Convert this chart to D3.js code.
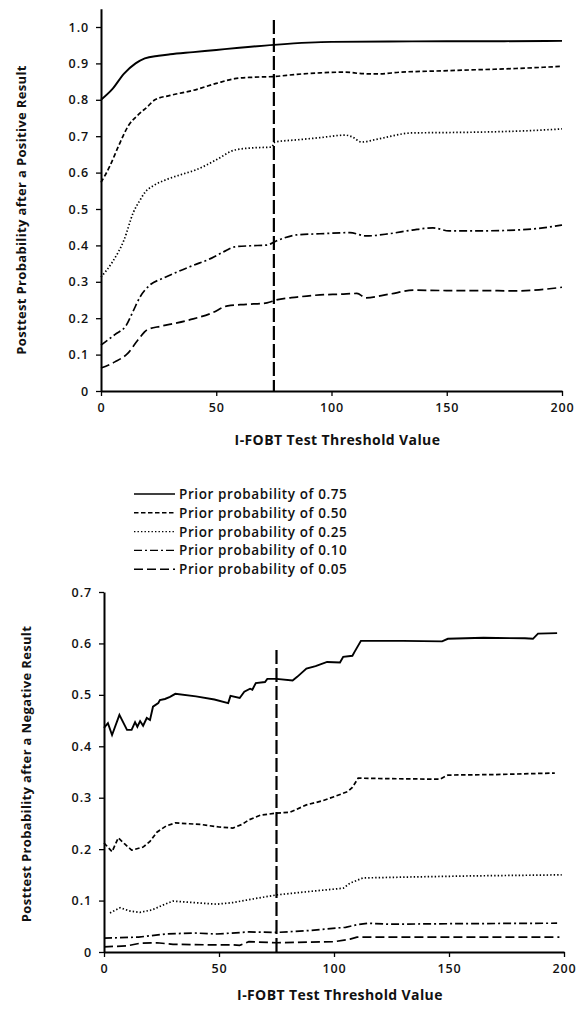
<!DOCTYPE html>
<html>
<head>
<meta charset="utf-8">
<script src="https://cdn.jsdelivr.net/npm/d3@7"></script>
<style>
  html, body { margin: 0; padding: 0; background: #fff; }
  svg { display: block; }
  text { font-family: "Open Sans", "Noto Sans", sans-serif; fill: #111; }
</style>
</head>
<body>
<svg id="chart" width="576" height="1009"></svg>
<script>
// Threshold values (x) and posttest probabilities for each prior probability

const priors = ["0.75", "0.50", "0.25", "0.10", "0.05"];
const legendLabels = priors.map(p => "Prior probability of " + p);
const xTicks = [0, 50, 100, 150, 200];
const yTicksPos = [0, 0.1, 0.2, 0.3, 0.4, 0.5, 0.6, 0.7, 0.8, 0.9, 1.0];
const yTicksNeg = [0, 0.1, 0.2, 0.3, 0.4, 0.5, 0.6, 0.7];
const cutoff = 75;

// After a positive result
const pos075 = [[0,0.80],[5,0.83],[10,0.872],[15,0.90],[19,0.914],[25,0.921],[30,0.925],[40,0.931],[50,0.937],[60,0.943],[75,0.951],[90,0.957],[100,0.959],[125,0.960],[150,0.961],[175,0.961],[200,0.962]];
const pos050 = [[0,0.573],[4,0.62],[7.4,0.67],[12,0.73],[16,0.758],[20,0.78],[23.4,0.80],[30,0.812],[40,0.826],[50,0.845],[58,0.858],[66,0.862],[75,0.864],[85,0.870],[95,0.874],[106,0.876],[113,0.872],[120,0.871],[130,0.876],[145,0.879],[160,0.882],[180,0.886],[200,0.892]];
const pos025 = [[0,0.313],[5,0.355],[10,0.415],[14,0.49],[17,0.525],[19,0.545],[23,0.565],[28,0.58],[35,0.595],[41,0.607],[50,0.635],[58,0.662],[66,0.668],[74,0.670],[75.5,0.684],[85,0.690],[95,0.696],[106,0.703],[109,0.698],[113,0.684],[120,0.692],[135,0.709],[150,0.710],[170,0.712],[185,0.715],[200,0.720]];
const pos010 = [[0,0.126],[6,0.155],[11,0.181],[14,0.22],[17,0.259],[21,0.29],[27,0.31],[33,0.327],[40,0.345],[48,0.365],[54,0.385],[58,0.396],[65,0.399],[72,0.401],[76,0.412],[85,0.429],[95,0.432],[108,0.435],[115,0.426],[125,0.432],[135,0.442],[144,0.448],[151,0.440],[165,0.440],[175,0.441],[190,0.447],[200,0.456]];
const pos005 = [[0,0.063],[6,0.08],[11.7,0.104],[16,0.14],[20,0.168],[26,0.178],[33,0.187],[40,0.198],[48,0.214],[55,0.234],[63,0.238],[72,0.242],[76,0.250],[85,0.258],[95,0.264],[104,0.266],[111,0.268],[115,0.256],[125,0.266],[136,0.277],[150,0.276],[165,0.276],[179,0.275],[190,0.278],[200,0.285]];

// After a negative result
const neg075 = [[0,0.436],[1.7,0.445],[3.5,0.422],[6.7,0.461],[10,0.432],[12,0.432],[13.5,0.447],[14.5,0.438],[15.7,0.449],[17,0.44],[18.6,0.455],[20,0.451],[21.3,0.477],[23.6,0.484],[24.3,0.49],[26.5,0.492],[28.7,0.496],[31,0.502],[40,0.497],[48,0.491],[54,0.484],[55,0.498],[59,0.494],[61,0.506],[63.5,0.512],[64.5,0.51],[66,0.523],[70,0.525],[71,0.531],[75,0.531],[82,0.528],[84,0.535],[88,0.551],[92,0.556],[97,0.564],[102.6,0.563],[104,0.574],[108,0.576],[109,0.584],[111.7,0.605],[130,0.605],[147,0.604],[149.5,0.609],[165,0.611],[183,0.610],[186.5,0.609],[188.7,0.619],[197,0.620]];
const neg050 = [[0,0.212],[3.5,0.195],[6.2,0.222],[9,0.21],[12,0.198],[17,0.204],[20,0.215],[23,0.233],[27,0.245],[31,0.251],[42,0.248],[50,0.243],[56,0.241],[60,0.248],[63,0.257],[68,0.266],[75,0.270],[81,0.272],[88,0.286],[95,0.294],[100,0.302],[106,0.312],[108,0.320],[110.5,0.338],[125,0.337],[146,0.336],[149.5,0.344],[170,0.345],[196,0.348]];
const neg025 = [[2.6,0.076],[7,0.086],[11,0.080],[15.6,0.077],[21,0.082],[26,0.092],[30,0.099],[36,0.097],[49,0.093],[56,0.096],[62,0.101],[75,0.111],[90,0.118],[104,0.124],[107,0.134],[112.6,0.144],[135,0.146],[160,0.148],[199,0.150]];
const neg010 = [[0,0.027],[15,0.029],[27,0.035],[39,0.037],[49,0.035],[63,0.039],[75,0.038],[90,0.042],[105,0.048],[110,0.053],[115,0.056],[124,0.054],[150,0.055],[197,0.056]];
const neg005 = [[0,0.010],[10,0.012],[15.6,0.017],[23,0.018],[30,0.015],[45,0.014],[56,0.014],[59,0.013],[63,0.020],[75,0.018],[100,0.020],[107,0.025],[110,0.029],[150,0.029],[198,0.029]];

const dashes = [null, "4.5,2.5", "1.4,2.1", "8,3,2,3", "9,4"];
const posSeries = [pos075, pos050, pos025, pos010, pos005];
const negSeries = [neg075, neg050, neg025, neg010, neg005];

const svg = d3.select("#chart");

function panel(cfg) {
  const g = svg.append("g");
  const x = d3.scaleLinear().domain([0, 200]).range(cfg.xRange);
  const y = d3.scaleLinear().domain(cfg.yDomain).range(cfg.yRange);

  // axes
  const fmt = v => v === 0 ? "0" : d3.format(".1f")(v);
  const yAxis = g.append("g").attr("transform", `translate(${cfg.xRange[0]},0)`)
    .call(d3.axisLeft(y).tickValues(cfg.yTicks).tickFormat(fmt).tickSize(5).tickSizeOuter(0).tickPadding(7));
  const xAxis = g.append("g").attr("transform", `translate(0,${y(0)})`)
    .call(d3.axisBottom(x).tickValues(xTicks).tickSize(5).tickSizeOuter(0).tickPadding(7));
  [yAxis, xAxis].forEach(a => {
    a.select(".domain").attr("stroke", "#000").attr("stroke-width", 2);
    a.selectAll(".tick line").attr("stroke", "#000").attr("stroke-width", 1.3);
    a.selectAll(".tick text").attr("font-size", 12.5).attr("font-weight", 600)
      .attr("letter-spacing", 0.9)
      .attr("font-family", "'Open Sans', sans-serif").attr("fill", "#111");
  });

  // series
  const line = d3.line().x(d => x(d[0])).y(d => y(d[1])).curve(cfg.curve);
  cfg.series.forEach((s, i) => {
    g.append("path").datum(s).attr("d", line)
      .attr("fill", "none").attr("stroke", "#000")
      .attr("stroke-width", i === 0 ? 1.9 : 1.7)
      .attr("stroke-dasharray", dashes[i]);
  });

  // threshold line at 75
  g.append("line")
    .attr("x1", x(cutoff)).attr("x2", x(cutoff))
    .attr("y1", cfg.cutTop).attr("y2", y(0))
    .attr("stroke", "#000").attr("stroke-width", 2.2)
    .attr("stroke-dasharray", "14,4");

  // titles
  g.append("text")
    .attr("x", (cfg.xRange[0] + cfg.xRange[1]) / 2 + 6).attr("y", cfg.xTitleY)
    .attr("text-anchor", "middle").attr("font-size", 14).attr("font-weight", 700)
    .attr("letter-spacing", 0.4)
    .text("I-FOBT Test Threshold Value");
  g.append("text")
    .attr("transform", `translate(${cfg.yTitleX},${cfg.yTitleY}) rotate(-90)`)
    .attr("text-anchor", "middle").attr("font-size", 13).attr("font-weight", 700)
    .attr("letter-spacing", 0.35)
    .text(cfg.yTitle);
}

panel({
  xRange: [101, 562], yRange: [391, 8.8], yDomain: [0, 1.05], yTicks: yTicksPos,
  series: posSeries, curve: d3.curveMonotoneX, cutTop: 20,
  xTitleY: 445, yTitleX: 26, yTitleY: 210,
  yTitle: "Posttest Probability after a Positive Result"
});

panel({
  xRange: [104, 564], yRange: [952, 592], yDomain: [0, 0.7], yTicks: yTicksNeg,
  series: negSeries, curve: d3.curveLinear, cutTop: 650,
  xTitleY: 1000, yTitleX: 31, yTitleY: 774,
  yTitle: "Posttest Probability after a Negative Result"
});

// legend
const legend = svg.append("g");
legendLabels.forEach((label, i) => {
  const yy = 494 + i * 18.8;
  legend.append("line")
    .attr("x1", 134).attr("x2", 175).attr("y1", yy).attr("y2", yy)
    .attr("stroke", "#000").attr("stroke-width", i === 0 ? 1.6 : 1.4)
    .attr("stroke-dasharray", dashes[i]);
  legend.append("text")
    .attr("x", 179).attr("y", yy + 5)
    .attr("font-size", 13.5).attr("font-weight", 600)
    .attr("letter-spacing", 0.6)
    .text(label);
});
</script>
</body>
</html>
